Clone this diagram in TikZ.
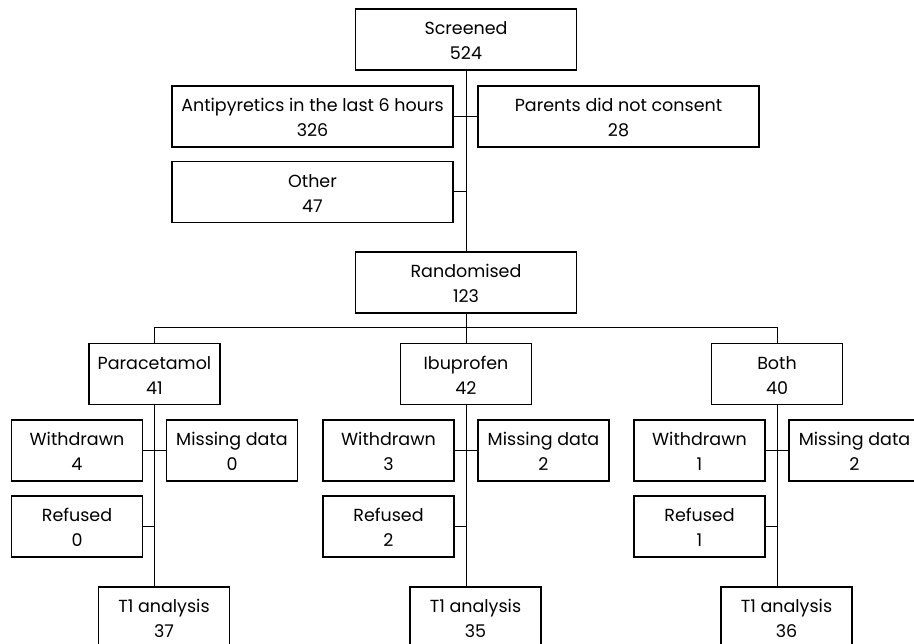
\documentclass[tikz,border=0pt]{standalone}
\usepackage{fontspec}
\setmainfont{Poppins}
\usepackage{tikz}

\begin{document}
\begin{tikzpicture}[x=1pt,y=-1pt,line width=1pt,
		box/.style={draw,line width=1.1pt,minimum height=61pt,inner sep=0pt,text height=40.5pt,text depth=0pt,align=center,font=\fontsize{17.5}{25}\selectfont},
		narrowbox/.style={box,minimum width=131pt},
		widebox/.style={box,minimum width=221pt},
		longbox/.style={box,minimum width=281pt}]
				\useasboundingbox (0,0) rectangle (914,644);
				\clip (0,0) rectangle (914,644);
				
				\node[widebox] (screened) at (466,39.5) {Screened\\524};
				\node[longbox] (antipyretics) at (312.5,116.5) {Antipyretics in the last 6 hours\\326};
				\node[longbox] (parents) at (618.5,116.5) {Parents did not consent\\28};
				\node[longbox] (other) at (312.5,192) {Other\\47};
				\node[widebox] (randomised) at (466,282.5) {Randomised\\123};
				
				\draw (screened.south) -- (randomised.north);
				\draw (antipyretics.east) -- (parents.west);
				\draw (other.east) -- (other.east -| screened.south);
				
				\node[narrowbox] (paracetamol) at (154.5,374) {Paracetamol\\41};
				\node[narrowbox] (ibuprofen) at (466,374) {Ibuprofen\\42};
				\node[narrowbox] (both) at (777,374) {Both\\40};
				
				\coordinate (split) at (466,327.5);
				\draw (randomised.south) -- (ibuprofen.north);
				\draw (paracetamol.north) |- (split) -| (both.north);
				
				\node[narrowbox] (withdrawnA) at (77,450.5) {Withdrawn\\4};
				\node[narrowbox] (missingA) at (232,450.5) {Missing data\\0};
				\node[narrowbox] (refusedA) at (77,526.5) {Refused\\0};
				\node[narrowbox] (analysisA) at (164,617.5) {T1 analysis\\37};
				\draw (paracetamol.south) -- (paracetamol.south |- analysisA.north);
				\draw (withdrawnA.east) -- (missingA.west);
				\draw (refusedA.east) -- (refusedA.east -| paracetamol.south);
				
				\node[narrowbox] (withdrawnB) at (388.5,450.5) {Withdrawn\\3};
				\node[narrowbox] (missingB) at (543.5,450.5) {Missing data\\2};
				\node[narrowbox] (refusedB) at (388.5,526.5) {Refused\\2};
				\node[narrowbox] (analysisB) at (475.5,617.5) {T1 analysis\\35};
				\draw (ibuprofen.south) -- (ibuprofen.south |- analysisB.north);
				\draw (withdrawnB.east) -- (missingB.west);
				\draw (refusedB.east) -- (refusedB.east -| ibuprofen.south);
				
				\node[narrowbox] (withdrawnC) at (699.5,450.5) {Withdrawn\\1};
				\node[narrowbox] (missingC) at (854.5,450.5) {Missing data\\2};
				\node[narrowbox] (refusedC) at (699.5,526.5) {Refused\\1};
				\node[narrowbox] (analysisC) at (786.5,617.5) {T1 analysis\\36};
				\draw (both.south) -- (both.south |- analysisC.north);
				\draw (withdrawnC.east) -- (missingC.west);
				\draw (refusedC.east) -- (refusedC.east -| both.south);
			\end{tikzpicture}
\end{document}
